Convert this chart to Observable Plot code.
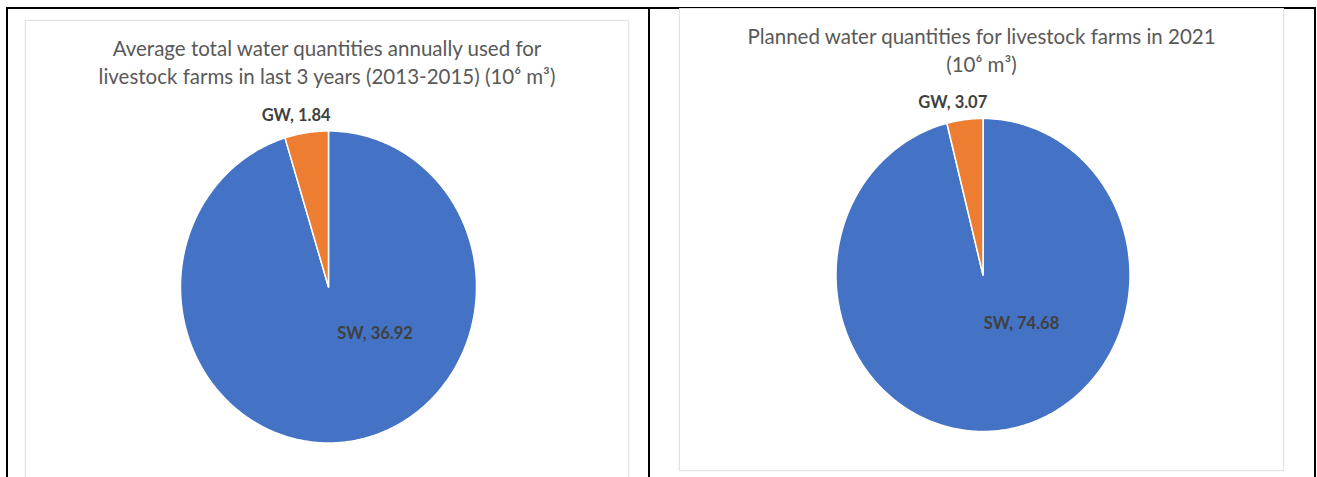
<!DOCTYPE html>
<html>
<head>
<meta charset="utf-8">
<script src="https://cdn.jsdelivr.net/npm/d3@7"></script>
<script src="https://cdn.jsdelivr.net/npm/@observablehq/plot@0.6"></script>
<style>
  html, body { margin: 0; padding: 0; background: #fff; }
  body { position: relative; width: 1317px; height: 477px; overflow: hidden; font-family: Lato, "Open Sans", sans-serif; }
  .rule { position: absolute; background: #000; }
  .box { position: absolute; background: #fff; border: 1px solid #e4e4e4; box-shadow: 0 0 2px rgba(0,0,0,0.08); box-sizing: border-box; }
  .title { position: absolute; left: 0; right: 0; top: 13px; text-align: center; color: #595959; font-size: 20.5px; line-height: 28px; white-space: nowrap; }
  .box svg { position: absolute; left: 0; top: 0; }
</style>
</head>
<body>
<div class="rule" style="left:6px;top:7px;width:1310px;height:2px"></div>
<div class="rule" style="left:6px;top:7px;width:2px;height:470px"></div>
<div class="rule" style="left:648px;top:7px;width:2px;height:470px"></div>
<div class="rule" style="left:1314px;top:7px;width:2px;height:470px"></div>
<div id="left" class="box" style="left:25px;top:20px;width:604px;height:470px"></div>
<div id="right" class="box" style="left:679px;top:8px;width:605px;height:463px"></div>
<script>
const categories = ["SW", "GW"];
const colors = ["#4472C4", "#ED7D31"];
const leftValues = [36.92, 1.84];
const rightValues = [74.68, 3.07];
const leftTitle = ["Average total water quantities annually used for", "livestock farms in last 3 years (2013-2015) (10\u2076 m\u00B3)"];
const rightTitle = ["Planned water quantities for livestock farms in 2021", "(10\u2076 m\u00B3)"];

function slices(values) {
  const total = d3.sum(values);
  let acc = 0;
  return categories.map((c, i) => {
    const a0 = acc / total * 2 * Math.PI;
    acc += values[i];
    const a1 = acc / total * 2 * Math.PI;
    return {key: c, value: values[i], a0, a1, mid: (a0 + a1) / 2};
  });
}

function polygonPoints(sl) {
  const pts = [];
  for (const s of sl) {
    pts.push({key: s.key, x: 0, y: 0});
    const n = Math.max(2, Math.ceil((s.a1 - s.a0) / 0.01));
    for (let k = 0; k <= n; k++) {
      const t = s.a0 + (s.a1 - s.a0) * k / n;
      pts.push({key: s.key, x: Math.sin(t), y: Math.cos(t)});
    }
  }
  return pts;
}

function drawPanel(id, values, title, opts) {
  const el = document.getElementById(id);
  const t = document.createElement("div");
  t.className = "title";
  t.innerHTML = title.join("<br>");
  el.appendChild(t);
  const W = el.clientWidth, H = el.clientHeight;
  const sl = slices(values);
  const pts = polygonPoints(sl);
  const outside = sl.filter(s => s.key === "GW").map(s => ({
    x: 1.11 * Math.sin(s.mid), y: 1.11 * Math.cos(s.mid),
    text: `${s.key}, ${d3.format(".2f")(s.value)}`
  }));
  const inside = sl.filter(s => s.key === "SW").map(s => ({
    x: 0.3 * Math.sin(s.mid), y: 0.3 * Math.cos(s.mid),
    text: `${s.key}, ${d3.format(".2f")(s.value)}`
  }));
  const plot = Plot.plot({
    width: W, height: H,
    margin: 0,
    style: {fontFamily: "Lato, 'Open Sans', sans-serif", background: "transparent", overflow: "visible"},
    x: {domain: [-1, 1], range: [opts.cx - opts.rx, opts.cx + opts.rx], axis: null},
    y: {domain: [-1, 1], range: [opts.cy + opts.ry, opts.cy - opts.ry], axis: null},
    color: {domain: categories, range: colors},
    marks: [
      Plot.line(pts, {x: "x", y: "y", z: "key", fill: "key", stroke: "white", strokeWidth: 1.5, curve: "linear-closed"}),
      Plot.text(outside, {x: "x", y: "y", text: "text", fontWeight: "bold", fontSize: 16.5, fill: "#404040", dx: opts.gwdx}),
      Plot.text(inside, {x: "x", y: "y", text: "text", fontWeight: "bold", fontSize: 16.5, fill: "#404040", dx: opts.swdx, dy: opts.swdy})
    ]
  });
  el.appendChild(plot);
}

drawPanel("left", leftValues, leftTitle, {cx: 302, cy: 265.5, rx: 148, ry: 156, gwdx: -8, swdx: 40, swdy: 0});
drawPanel("right", rightValues, rightTitle, {cx: 302.5, cy: 265.5, rx: 147, ry: 156.5, gwdx: -10, swdx: 33, swdy: 2});
</script>
</body>
</html>
